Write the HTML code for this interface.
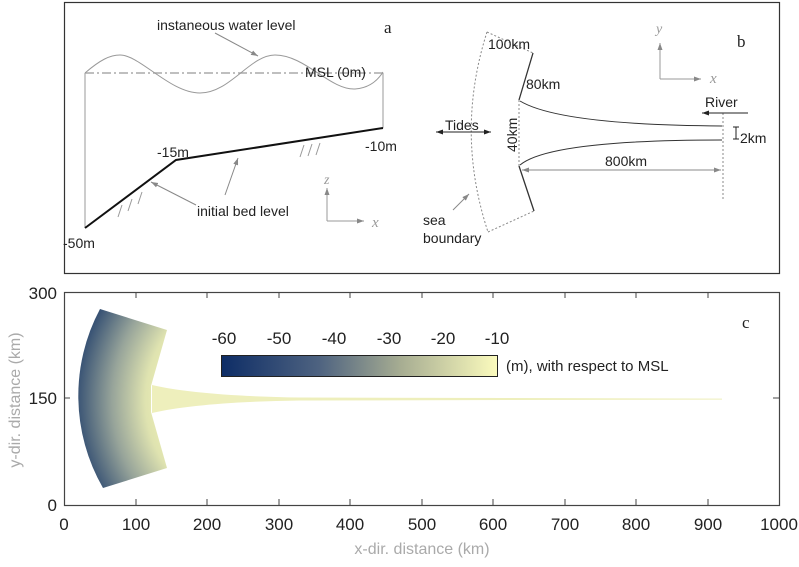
<!DOCTYPE html>
<html><head><style>
body{margin:0;background:#fff;}
svg text{font-family:"Liberation Sans",sans-serif;}
</style></head><body>
<svg width="799" height="562" viewBox="0 0 799 562" xmlns="http://www.w3.org/2000/svg">
<defs>
<marker id="ah" markerWidth="8" markerHeight="8" refX="7" refY="4" orient="auto" markerUnits="userSpaceOnUse"><path d="M0,1.5 L7,4 L0,6.5 Z" fill="#888"/></marker>
<marker id="ahk" markerWidth="8" markerHeight="8" refX="7" refY="4" orient="auto" markerUnits="userSpaceOnUse"><path d="M0,1.5 L7,4 L0,6.5 Z" fill="#222"/></marker>
<marker id="ahks" markerWidth="8" markerHeight="8" refX="1" refY="4" orient="auto" markerUnits="userSpaceOnUse"><path d="M8,1.5 L1,4 L8,6.5 Z" fill="#222"/></marker>
<linearGradient id="cb" x1="0" x2="1" y1="0" y2="0">
<stop offset="0" stop-color="#0e2d66"/><stop offset="0.35" stop-color="#4d6280"/><stop offset="0.65" stop-color="#a7ad92"/><stop offset="1" stop-color="#fbfbbd"/></linearGradient>
<radialGradient id="fan" gradientUnits="userSpaceOnUse" cx="260" cy="400" r="185">
<stop offset="0.5" stop-color="#eef0b4"/><stop offset="0.62" stop-color="#dfe3b0"/><stop offset="0.8" stop-color="#97a49a"/><stop offset="1" stop-color="#334e72"/></radialGradient>
</defs>
<rect x="64.5" y="2.5" width="715" height="271" fill="none" stroke="#333" stroke-width="1.2"/>
<line x1="85" y1="73" x2="85" y2="228" stroke="#999"/>
<line x1="383" y1="73" x2="383" y2="128" stroke="#999"/>
<line x1="85" y1="73" x2="383" y2="73" stroke="#aaa" stroke-width="1.5" stroke-dasharray="9,3,2,3"/>
<path d="M85,73 C100,60 110,55 120,55 C140,55 170,93 200,93 C230,93 250,55 275,55 C305,55 330,90 355,89 C370,88 378,80 383,72" fill="none" stroke="#999"/>
<polyline points="85,228 176,160 383,128" fill="none" stroke="#111" stroke-width="2"/>
<g stroke="#999"><line x1="118" y1="217" x2="122" y2="205"/><line x1="128" y1="211" x2="132" y2="199"/><line x1="138" y1="204" x2="142" y2="192"/>
<line x1="300" y1="157" x2="304" y2="145"/><line x1="308" y1="156" x2="312" y2="144"/><line x1="316" y1="155" x2="320" y2="143"/></g>
<line x1="215" y1="33" x2="258" y2="56" stroke="#888" marker-end="url(#ah)"/>
<line x1="196" y1="205" x2="151" y2="182" stroke="#888" marker-end="url(#ah)"/>
<line x1="225" y1="195" x2="238" y2="158" stroke="#888" marker-end="url(#ah)"/>
<line x1="327" y1="221" x2="364" y2="221" stroke="#999" marker-end="url(#ah)"/>
<line x1="327" y1="221" x2="327" y2="188" stroke="#999" marker-end="url(#ah)"/>
<text x="324" y="184" font-size="14" fill="#999" font-style="italic" style="font-family:'Liberation Serif',serif">z</text>
<text x="372" y="227" font-size="15" fill="#999" font-style="italic" style="font-family:'Liberation Serif',serif">x</text>
<text x="157" y="30" font-size="14" fill="#222">instaneous water level</text>
<text x="384" y="33" font-size="17" fill="#222" style="font-family:'Liberation Serif',serif">a</text>
<text x="305" y="77" font-size="14" fill="#222">MSL (0m)</text>
<text x="157" y="157" font-size="14" fill="#222">-15m</text>
<text x="365" y="151" font-size="14" fill="#222">-10m</text>
<text x="197" y="216" font-size="14" fill="#222">initial bed level</text>
<text x="63" y="248" font-size="14" fill="#222">-50m</text>
<path d="M487,32 Q455,132 488,232" fill="none" stroke="#888" stroke-dasharray="2,2"/>
<line x1="487" y1="32" x2="533" y2="53" stroke="#888" stroke-dasharray="2,2"/>
<line x1="488" y1="232" x2="534" y2="211" stroke="#888" stroke-dasharray="2,2"/>
<polyline points="533,53 519,100" fill="none" stroke="#333" stroke-width="1.3"/>
<polyline points="519,166 534,211" fill="none" stroke="#333" stroke-width="1.3"/>
<path d="M520,101 Q560,125 722,126" fill="none" stroke="#333"/>
<path d="M520,165 Q550,140 722,140" fill="none" stroke="#333"/>
<line x1="519" y1="100" x2="519" y2="166" stroke="#888" stroke-dasharray="2,2"/>
<line x1="723" y1="113" x2="723" y2="200" stroke="#888" stroke-dasharray="2,2"/>
<line x1="522" y1="170" x2="721" y2="170" stroke="#888" marker-end="url(#ah)"/>
<line x1="721" y1="170" x2="522" y2="170" stroke="#888" marker-end="url(#ah)"/>
<line x1="436" y1="132" x2="491" y2="132" stroke="#222" marker-end="url(#ahk)" marker-start="url(#ahks)"/>
<line x1="748" y1="113" x2="702" y2="113" stroke="#222" marker-end="url(#ahk)"/>
<g stroke="#222"><line x1="736" y1="127" x2="736" y2="139"/><line x1="733" y1="127" x2="739" y2="127"/><line x1="733" y1="139" x2="739" y2="139"/></g>
<line x1="453" y1="210" x2="469" y2="194" stroke="#888" marker-end="url(#ah)"/>
<line x1="660" y1="79" x2="660" y2="43" stroke="#999" marker-end="url(#ah)"/>
<line x1="660" y1="79" x2="701" y2="79" stroke="#999" marker-end="url(#ah)"/>
<text x="656" y="33" font-size="14" fill="#999" font-style="italic" style="font-family:'Liberation Serif',serif">y</text>
<text x="710" y="83" font-size="15" fill="#999" font-style="italic" style="font-family:'Liberation Serif',serif">x</text>
<text x="737" y="47" font-size="17" fill="#222" style="font-family:'Liberation Serif',serif">b</text>
<text x="488" y="49" font-size="14" fill="#222">100km</text>
<text x="526" y="89" font-size="14" fill="#222">80km</text>
<text x="705" y="107" font-size="14" fill="#222">River</text>
<text x="740" y="143" font-size="14" fill="#222">2km</text>
<text x="605" y="166" font-size="14" fill="#222">800km</text>
<text x="445" y="130" font-size="14" fill="#222">Tides</text>
<text x="0" y="0" font-size="14" fill="#222" transform="translate(517,152) rotate(-90)">40km</text>
<text x="423" y="225" font-size="14" fill="#222">sea</text>
<text x="423" y="243" font-size="14" fill="#222">boundary</text>
<path d="M100,309 A184.5,184.5 0 0 0 103,488 L167,468 L151,412 Z" fill="url(#fan)"/>
<path d="M100,309 L167,330 L151,386 L151,412 L100,400 Z" fill="url(#fan)"/>
<path d="M152,413 Q200,402 300,400.5 L722,399.6 L722,398.6 L300,397.5 Q200,396 152,385 Z" fill="#eeefbc"/>
<rect x="64.5" y="292.5" width="715" height="213" fill="none" stroke="#444" stroke-width="1.2"/>
<g stroke="#444">
<line x1="136" y1="292" x2="136" y2="298"/><line x1="207" y1="292" x2="207" y2="298"/><line x1="279" y1="292" x2="279" y2="298"/><line x1="350" y1="292" x2="350" y2="298"/><line x1="422" y1="292" x2="422" y2="298"/><line x1="493" y1="292" x2="493" y2="298"/><line x1="565" y1="292" x2="565" y2="298"/><line x1="636" y1="292" x2="636" y2="298"/><line x1="708" y1="292" x2="708" y2="298"/>
<line x1="136" y1="505" x2="136" y2="499"/><line x1="207" y1="505" x2="207" y2="499"/><line x1="279" y1="505" x2="279" y2="499"/><line x1="350" y1="505" x2="350" y2="499"/><line x1="422" y1="505" x2="422" y2="499"/><line x1="493" y1="505" x2="493" y2="499"/><line x1="565" y1="505" x2="565" y2="499"/><line x1="636" y1="505" x2="636" y2="499"/><line x1="708" y1="505" x2="708" y2="499"/>
<line x1="64" y1="398" x2="70" y2="398"/><line x1="779" y1="398" x2="773" y2="398"/>
</g>
<g font-size="17" fill="#222" text-anchor="middle">
<text x="64" y="530">0</text><text x="136" y="530">100</text><text x="207" y="530">200</text><text x="279" y="530">300</text><text x="350" y="530">400</text><text x="422" y="530">500</text><text x="493" y="530">600</text><text x="565" y="530">700</text><text x="636" y="530">800</text><text x="708" y="530">900</text><text x="779" y="530">1000</text>
</g>
<g font-size="17" fill="#222" text-anchor="end">
<text x="57" y="299">300</text><text x="57" y="404">150</text><text x="57" y="511">0</text>
</g>
<text x="422" y="554" font-size="16" fill="#aaa" text-anchor="middle">x-dir. distance (km)</text>
<text x="0" y="0" font-size="16" fill="#aaa" text-anchor="middle" transform="translate(20,400) rotate(-90)">y-dir. distance (km)</text>
<text x="742" y="328" font-size="17" fill="#222" style="font-family:'Liberation Serif',serif">c</text>
<rect x="221.5" y="355.5" width="276" height="21" fill="url(#cb)" stroke="#222"/>
<g font-size="17" fill="#222" text-anchor="middle">
<text x="224" y="344">-60</text><text x="279" y="344">-50</text><text x="334" y="344">-40</text><text x="389" y="344">-30</text><text x="443" y="344">-20</text><text x="497" y="344">-10</text>
</g>
<text x="506" y="371" font-size="15" fill="#222">(m), with respect to MSL</text>
</svg>
</body></html>
